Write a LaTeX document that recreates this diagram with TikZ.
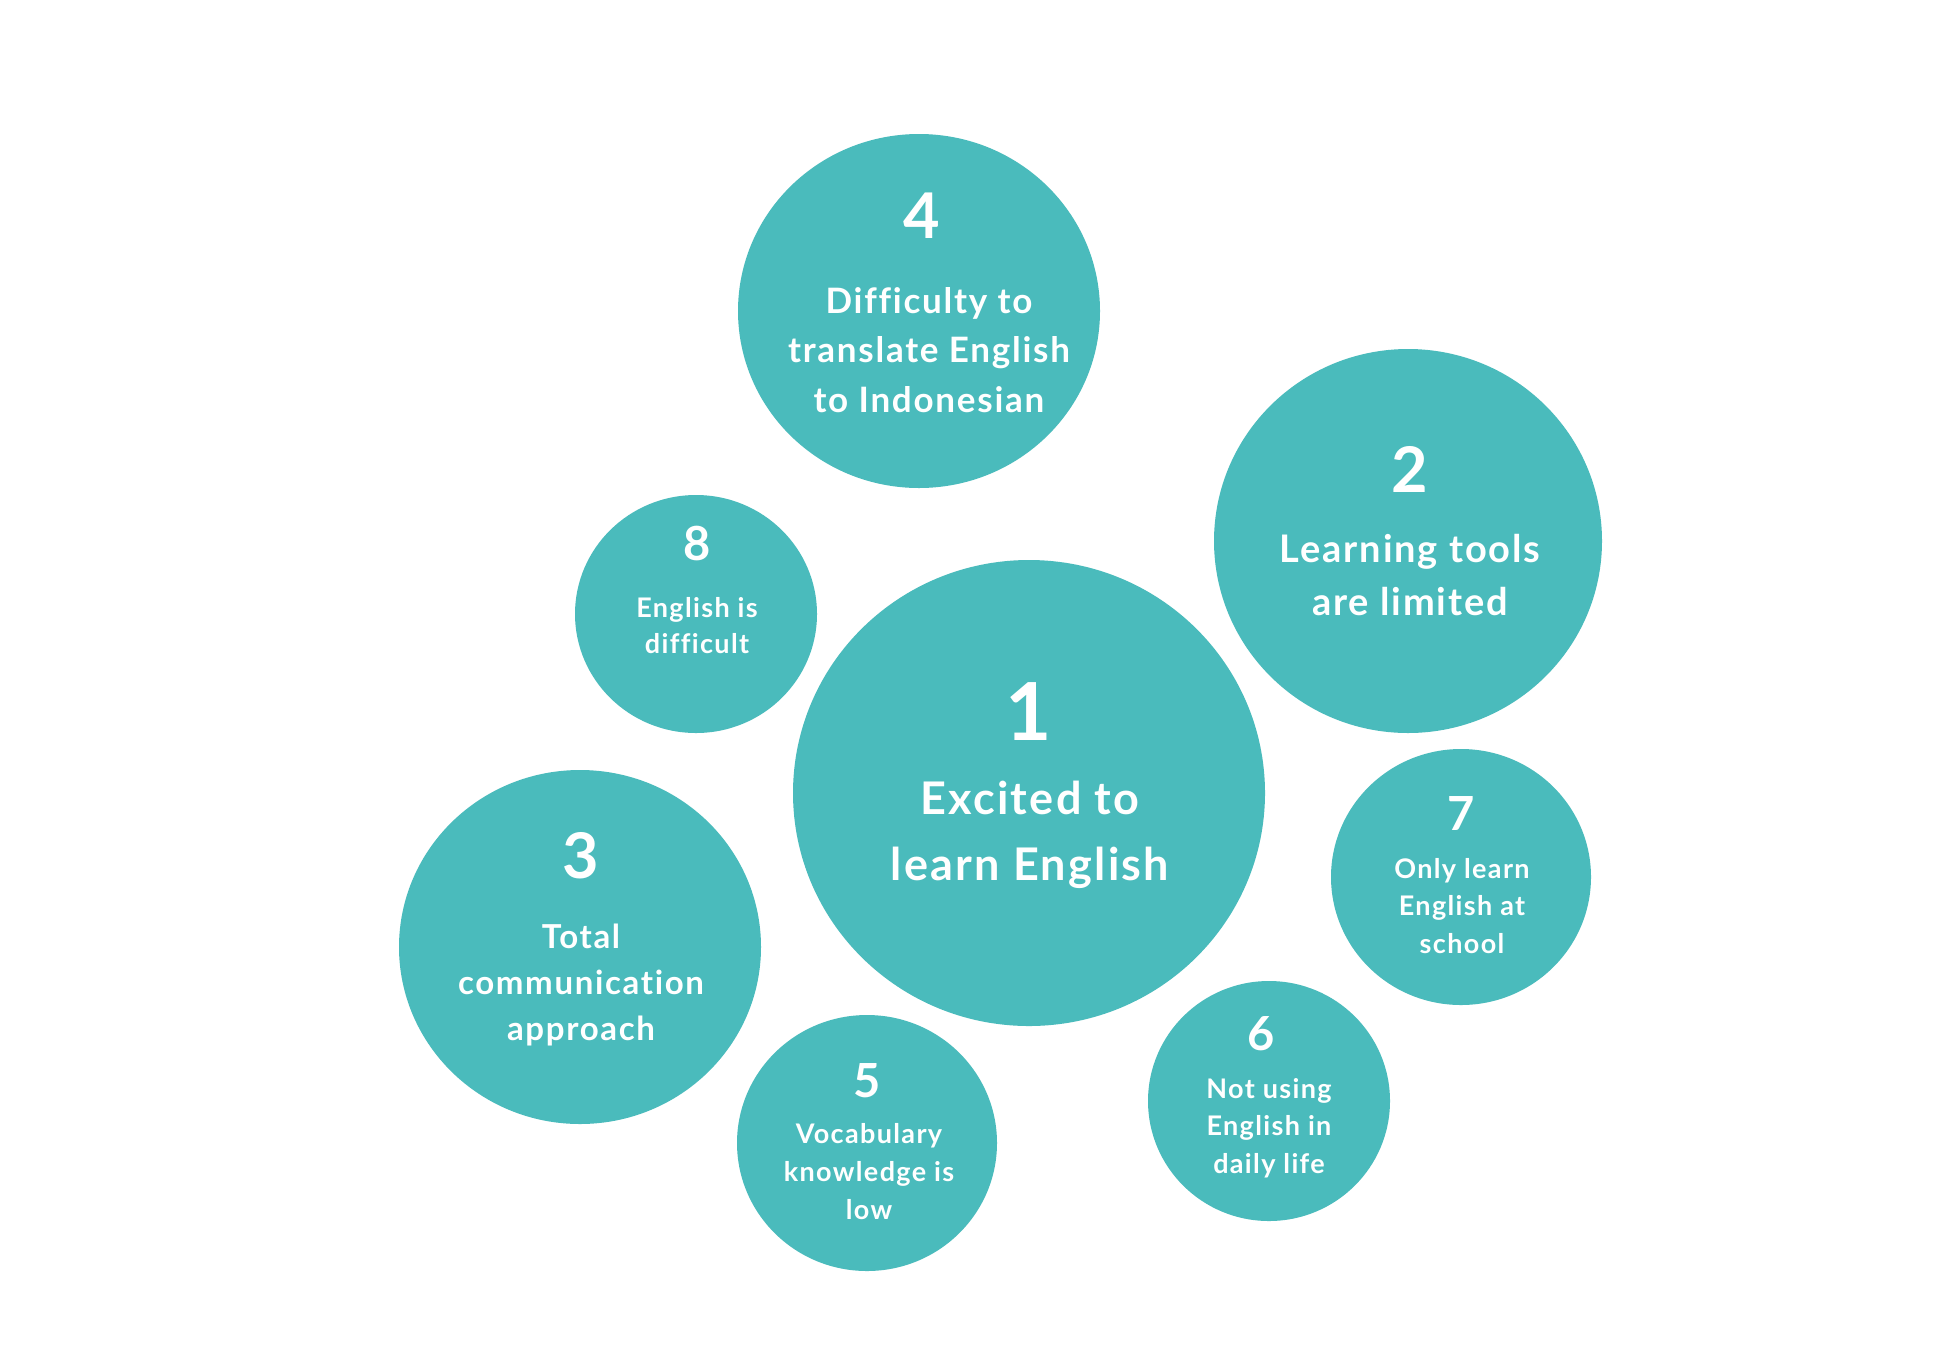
\documentclass[tikz,border=0pt]{standalone}
\usepackage{fontspec}
\setmainfont{Lato}[LetterSpace=5,Ligatures=NoCommon]
\usetikzlibrary{shapes.geometric}
\definecolor{teal}{HTML}{4ABBBC}
\tikzset{
  bub/.style={ellipse, fill=teal, draw=none, inner sep=0pt, outer sep=0pt},
  lbl/.style={text=white, anchor=base, align=center, inner sep=0pt, font=\bfseries},
}
\newcommand{\fs}[2]{\fontsize{#1}{#2}\selectfont}
\begin{document}
\begin{tikzpicture}[x=0.5pt,y=-0.5pt]
\useasboundingbox (0,0) rectangle (1942,1366);
\fill[white] (0,0) rectangle (1942,1366);
% bubbles: minimum width = rx pt, minimum height = ry pt
\node[bub, minimum width=236pt, minimum height=233pt] (c1) at (1029,793) {};
\node[bub, minimum width=181pt, minimum height=177pt] (c4) at (919,311) {};
\node[bub, minimum width=194pt, minimum height=192pt] (c2) at (1408,541) {};
\node[bub, minimum width=121pt, minimum height=119pt] (c8) at (696,614) {};
\node[bub, minimum width=181pt, minimum height=177pt] (c3) at (580,947) {};
\node[bub, minimum width=130pt, minimum height=128pt] (c7) at (1461,877) {};
\node[bub, minimum width=121pt, minimum height=120pt] (c6) at (1269,1101) {};
\node[bub, minimum width=130pt, minimum height=128pt] (c5) at (867,1143) {};
% labels (multi-line labels are placed by the baseline of their last line)
\node[lbl, font=\bfseries\fs{40}{40}] (n1) at (1029,740) {1};
\node[lbl, font=\bfseries\fs{22.5}{33}] (t1) at (1030,880) {Excited to\\learn English};
\node[lbl, font=\bfseries\fs{31.5}{32}] (n4) at (922,238) {4};
\node[lbl, font=\bfseries\fs{17.5}{24.75}] (t4) at (929,412) {Difficulty to\\translate English\\to Indonesian};
\node[lbl, font=\bfseries\fs{31.5}{32}] (n2) at (1410,492) {2};
\node[lbl, font=\bfseries\fs{19}{26.5}] (t2) at (1410,615) {Learning tools\\are limited};
\node[lbl, font=\bfseries\fs{23.5}{24}] (n8) at (697,560) {8};
\node[lbl, font=\bfseries\fs{13.5}{18}] (t8) at (697,653) {English is\\difficult};
\node[lbl, font=\bfseries\fs{31.5}{32}] (n3) at (581,878) {3};
\node[lbl, font=\bfseries\fs{16.5}{23}] (t3) at (581,1040) {Total\\communication\\approach};
\node[lbl, font=\bfseries\fs{23.5}{24}] (n7) at (1461,830) {7};
\node[lbl, font=\bfseries\fs{13.5}{18.75}] (t7) at (1462,953) {Only learn\\English at\\school};
\node[lbl, font=\bfseries\fs{23.5}{24}] (n6) at (1261,1050) {6};
\node[lbl, font=\bfseries\fs{13.5}{18.75}] (t6) at (1269,1173) {Not using\\English in\\daily life};
\node[lbl, font=\bfseries\fs{23.5}{24}] (n5) at (867,1097) {5};
\node[lbl, font=\bfseries\fs{13.5}{19}] (t5) at (869,1219) {Vocabulary\\knowledge is\\low};
\end{tikzpicture}
\end{document}
